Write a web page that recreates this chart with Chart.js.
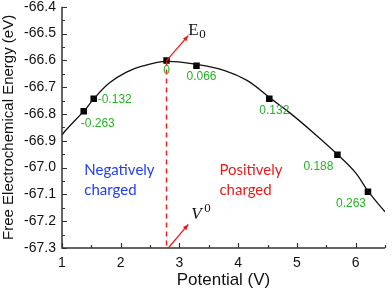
<!DOCTYPE html>
<html>
<head>
<meta charset="utf-8">
<script src="https://cdn.jsdelivr.net/npm/chart.js@4/dist/chart.umd.min.js"></script>
<style>
    html, body { margin: 0; padding: 0; background: #fff; }
    #wrap { width: 392px; height: 291px; position: relative; }
</style>
</head>
<body>
<div id="wrap"><canvas id="chart"></canvas></div>
<script>
"use strict";

// fitted curve
const curveX = [1.00, 1.08, 1.39, 1.54, 1.81, 2.09, 2.36, 2.78, 3.28, 3.77, 4.15, 4.54, 4.88, 5.28, 5.70, 6.00, 6.22, 6.50];
const curveY = [-66.878, -66.857, -66.785, -66.744, -66.684, -66.645, -66.622, -66.604, -66.615, -66.638, -66.675, -66.740, -66.796, -66.870, -66.953, -67.020, -67.091, -67.165];

// computed points and their charge labels
const pointX = [1.37, 1.54, 2.78, 3.29, 4.53, 5.69, 6.21];
const pointY = [-66.790, -66.743, -66.601, -66.620, -66.743, -66.952, -67.090];
const chargeLabels = ["-0.263", "-0.132", "0", "0.066", "0.132", "0.188", "0.263"];

const xTicks = [1, 2, 3, 4, 5, 6];
const yTicks = [-66.4, -66.5, -66.6, -66.7, -66.8, -66.9, -67.0, -67.1, -67.2, -67.3];

const zeroPotential = 2.78;

const kGreen = "#22b422";
const kRed = "#f21818";

// label offsets in px, relative to each marker
const labelOffsets = [[14, 12], [21, 1], [0, 10], [5, 11], [5, 12], [-19, 12], [-17, 12]];

function zip(xs, ys) {
    return xs.map((x, i) => ({ x, y: ys[i] }));
}

function drawArrow(ctx, x0, y0, x1, y1) {
    const angle = Math.atan2(y1 - y0, x1 - x0);
    ctx.beginPath();
    ctx.moveTo(x0, y0);
    ctx.lineTo(x1, y1);
    ctx.stroke();
    ctx.beginPath();
    ctx.moveTo(x1, y1);
    ctx.lineTo(x1 - 6 * Math.cos(angle - 0.4), y1 - 6 * Math.sin(angle - 0.4));
    ctx.lineTo(x1 - 6 * Math.cos(angle + 0.4), y1 - 6 * Math.sin(angle + 0.4));
    ctx.closePath();
    ctx.fill();
}

const innerTicks = {
    id: "innerTicks",
    afterDraw(chart) {
        const { ctx, chartArea, scales } = chart;
        const xs = scales.x;
        const ys = scales.y;
        ctx.save();
        ctx.strokeStyle = "#333";
        ctx.lineWidth = 1.5;
        ctx.beginPath();
        ctx.moveTo(chartArea.left, chartArea.top);
        ctx.lineTo(chartArea.left, chartArea.bottom);
        ctx.lineTo(chartArea.right, chartArea.bottom);
        ctx.stroke();

        ctx.lineWidth = 1.2;
        ctx.beginPath();
        for (const t of xs.ticks) {
            const px = Math.round(xs.getPixelForValue(t.value)) + 0.5;
            const major = Math.abs(t.value - Math.round(t.value)) < 1e-6;
            ctx.moveTo(px, chartArea.bottom);
            ctx.lineTo(px, chartArea.bottom - (major ? 5 : 3));
        }
        for (const t of ys.ticks) {
            const py = Math.round(ys.getPixelForValue(t.value)) + 0.5;
            const major = Math.abs(t.value * 10 - Math.round(t.value * 10)) < 1e-6;
            ctx.moveTo(chartArea.left, py);
            ctx.lineTo(chartArea.left + (major ? 5 : 3), py);
        }
        ctx.stroke();

        // charge labels
        ctx.fillStyle = kGreen;
        ctx.font = "12px 'Liberation Sans', Arial, sans-serif";
        ctx.textAlign = "center";
        ctx.textBaseline = "middle";
        pointX.forEach((x, i) => {
            const px = xs.getPixelForValue(x) + labelOffsets[i][0];
            const py = ys.getPixelForValue(pointY[i]) + labelOffsets[i][1];
            ctx.fillText(chargeLabels[i], px, py);
        });

        // arrows
        ctx.strokeStyle = kRed;
        ctx.fillStyle = kRed;
        ctx.lineWidth = 1.3;
        drawArrow(ctx, xs.getPixelForValue(zeroPotential), ys.getPixelForValue(-66.601),
            xs.getPixelForValue(3.15), ys.getPixelForValue(-66.508));
        drawArrow(ctx, xs.getPixelForValue(2.81), ys.getPixelForValue(-67.3),
            xs.getPixelForValue(3.15), ys.getPixelForValue(-67.212));

        // E0 and V0
        ctx.fillStyle = "#111";
        ctx.textAlign = "left";
        ctx.textBaseline = "alphabetic";
        ctx.font = "17px 'Liberation Serif', 'DejaVu Serif', serif";
        let px = xs.getPixelForValue(3.15) + 0;
        let py = ys.getPixelForValue(-66.508) - 1;
        ctx.fillText("E", px, py);
        ctx.font = "13px 'Liberation Serif', serif";
        ctx.fillText("0", px + 11, py + 3);
        ctx.font = "italic 17px 'Liberation Serif', 'DejaVu Serif', serif";
        px = xs.getPixelForValue(3.2);
        py = ys.getPixelForValue(-67.212) - 5;
        ctx.fillText("V", px, py);
        ctx.font = "13px 'Liberation Serif', serif";
        ctx.fillText("0", px + 13, py - 7);

        // regions
        ctx.font = "15px Lato, 'Open Sans', sans-serif";
        ctx.textBaseline = "middle";
        ctx.fillStyle = "#1f3cff";
        ctx.fillText("Negatively", xs.getPixelForValue(1.38), ys.getPixelForValue(-67.009));
        ctx.fillText("charged", xs.getPixelForValue(1.38), ys.getPixelForValue(-67.083));
        ctx.fillStyle = kRed;
        ctx.fillText("Positively", xs.getPixelForValue(3.68), ys.getPixelForValue(-67.009));
        ctx.fillText("charged", xs.getPixelForValue(3.68), ys.getPixelForValue(-67.083));
        ctx.restore();
    }
};

new Chart(document.getElementById("chart"), {
    type: "scatter",
    data: {
        datasets: [
            {
                type: "line",
                data: zip(curveX, curveY),
                borderColor: "#111",
                borderWidth: 1.3,
                pointRadius: 0,
                tension: 0.4,
                fill: false
            },
            {
                type: "line",
                data: [{ x: zeroPotential, y: pointY[2] }, { x: zeroPotential, y: yTicks[yTicks.length - 1] }],
                borderColor: kRed,
                borderWidth: 1.5,
                borderDash: [5, 4],
                pointRadius: 0,
                fill: false
            },
            {
                data: zip(pointX, pointY),
                pointStyle: "rect",
                pointRadius: 4.6,
                backgroundColor: "#000",
                borderColor: "#000",
                borderWidth: 0
            }
        ]
    },
    options: {
        responsive: true,
        maintainAspectRatio: false,
        animation: false,
        layout: { padding: { top: 0, right: 2, left: 0, bottom: 0 } },
        plugins: {
            legend: { display: false },
            tooltip: { enabled: false }
        },
        scales: {
            x: {
                type: "linear",
                min: 1,
                max: 6.5,
                border: { display: false },
                grid: { display: false, drawTicks: false },
                afterFit: (scale) => { scale.height = 43; },
                ticks: {
                    stepSize: 0.5,
                    padding: 7,
                    color: "#111",
                    font: { size: 14, family: "'Liberation Sans', Arial, sans-serif" },
                    callback: (v) => (xTicks.includes(v) ? String(v) : "")
                },
                title: {
                    display: true,
                    text: "Potential (V)",
                    color: "#111",
                    padding: { top: 0, bottom: 0 },
                    font: { size: 17, family: "'Liberation Sans', Arial, sans-serif" }
                }
            },
            y: {
                type: "linear",
                min: -67.3,
                max: -66.4,
                border: { display: false },
                grid: { display: false, drawTicks: false },
                afterFit: (scale) => { scale.width = 62; },
                ticks: {
                    stepSize: 0.05,
                    padding: 6,
                    color: "#111",
                    font: { size: 14, lineHeight: 0.1, family: "'Liberation Sans', Arial, sans-serif" },
                    callback: (v) => {
                        const hit = yTicks.find((t) => Math.abs(t - v) < 1e-6);
                        return hit === undefined ? "" : hit.toFixed(1);
                    }
                },
                title: {
                    display: true,
                    text: "Free Electrochemical Energy (eV)",
                    color: "#111",
                    padding: { top: 0, bottom: 2 },
                    font: { size: 15, family: "'Liberation Sans', Arial, sans-serif" }
                }
            }
        }
    },
    plugins: [innerTicks]
});
</script>
</body>
</html>
